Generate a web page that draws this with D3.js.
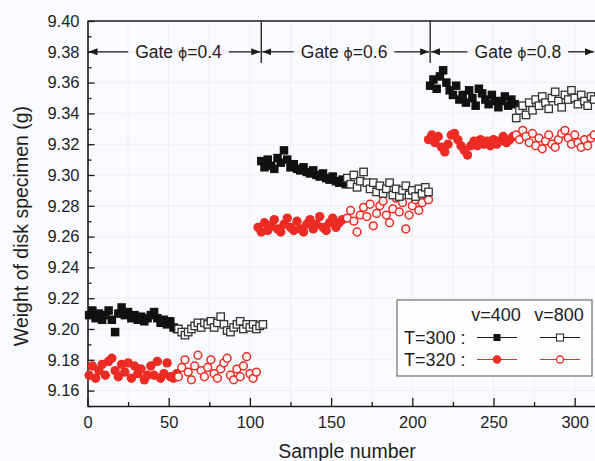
<!DOCTYPE html>
<html>
<head>
<meta charset="utf-8">
<script src="https://cdn.jsdelivr.net/npm/d3@7"></script>
<style>
  html, body { margin: 0; padding: 0; background: #fafbfe; }
  svg { display: block; font-family: "Liberation Sans", Arial, Helvetica, sans-serif; }
</style>
</head>
<body>
<div id="chart"></div>
<script>
const width = 595;
const height = 461;

// sample step between plotted points
const sampleStep = 2;

const xTicks = [0, 50, 100, 150, 200, 250, 300];
const yTicks = [9.16, 9.18, 9.20, 9.22, 9.24, 9.26, 9.28, 9.30, 9.32, 9.34, 9.36, 9.38, 9.40];

const gateLabels = ['0.4', '0.6', '0.8'];
const gateBounds = [0, 107, 211, 312.5];
const gateLabelAt = [56, 158, 265];
const gateLevel = 9.38;

const legendCols = ['v=400', 'v=800'];
const legendRows = ['T=300 :', 'T=320 :'];

// first sample number of each gate segment
const startT300v400 = [1, 107, 211];
const startT300v800 = [56, 160, 264];
const startT320v400 = [1, 105, 210];
const startT320v800 = [56, 160, 264];

const t300v400 = [
    [9.209, 9.212, 9.207, 9.210, 9.206, 9.209, 9.212, 9.206, 9.198, 9.210, 9.214, 9.209, 9.211, 9.207,
     9.209, 9.206, 9.208, 9.205, 9.207, 9.209, 9.211, 9.207, 9.204, 9.206, 9.203, 9.205, 9.201, 9.200],
    [9.309, 9.305, 9.310, 9.306, 9.304, 9.311, 9.308, 9.316, 9.310, 9.305, 9.307, 9.304, 9.303, 9.305,
     9.302, 9.301, 9.303, 9.300, 9.299, 9.301, 9.298, 9.297, 9.299, 9.296, 9.295, 9.297, 9.294],
    [9.358, 9.362, 9.356, 9.364, 9.368, 9.360, 9.355, 9.352, 9.358, 9.349, 9.352, 9.347, 9.355, 9.350,
     9.345, 9.356, 9.353, 9.349, 9.346, 9.352, 9.348, 9.344, 9.348, 9.351, 9.345, 9.349, 9.346]
];
const t300v800 = [
    [9.200, 9.198, 9.196, 9.198, 9.200, 9.202, 9.204, 9.201, 9.204, 9.203, 9.205, 9.201, 9.204, 9.208,
     9.203, 9.199, 9.198, 9.201, 9.203, 9.205, 9.200, 9.203, 9.201, 9.203, 9.200, 9.202, 9.203],
    [9.298, 9.294, 9.300, 9.292, 9.296, 9.302, 9.295, 9.291, 9.295, 9.289, 9.293, 9.288, 9.291, 9.295,
     9.287, 9.291, 9.286, 9.290, 9.293, 9.287, 9.290, 9.286, 9.291, 9.288, 9.292, 9.289],
    [9.337, 9.342, 9.345, 9.339, 9.347, 9.342, 9.349, 9.345, 9.351, 9.347, 9.343, 9.350, 9.354, 9.348,
     9.344, 9.352, 9.349, 9.355, 9.350, 9.346, 9.352, 9.348, 9.345, 9.351, 9.349]
];
const t320v400 = [
    [9.170, 9.176, 9.168, 9.173, 9.177, 9.170, 9.179, 9.181, 9.173, 9.169, 9.177, 9.172, 9.178, 9.168,
     9.176, 9.171, 9.174, 9.167, 9.170, 9.176, 9.170, 9.179, 9.168, 9.171, 9.178, 9.169, 9.168, 9.171],
    [9.266, 9.263, 9.269, 9.264, 9.267, 9.271, 9.265, 9.263, 9.268, 9.272, 9.266, 9.264, 9.270, 9.265,
     9.263, 9.268, 9.271, 9.265, 9.268, 9.273, 9.266, 9.264, 9.269, 9.272, 9.266, 9.269, 9.271],
    [9.323, 9.326, 9.321, 9.325, 9.318, 9.315, 9.320, 9.326, 9.327, 9.323, 9.319, 9.316, 9.313, 9.319,
     9.322, 9.319, 9.323, 9.320, 9.322, 9.319, 9.323, 9.320, 9.322, 9.325, 9.321, 9.323, 9.325]
];
const t320v800 = [
    [9.169, 9.175, 9.180, 9.172, 9.167, 9.176, 9.183, 9.173, 9.169, 9.175, 9.180, 9.171, 9.168, 9.174,
     9.178, 9.181, 9.170, 9.167, 9.174, 9.169, 9.176, 9.182, 9.171, 9.168, 9.172],
    [9.272, 9.277, 9.270, 9.263, 9.274, 9.279, 9.273, 9.281, 9.267, 9.275, 9.280, 9.283, 9.274, 9.269,
     9.278, 9.285, 9.276, 9.282, 9.265, 9.274, 9.280, 9.284, 9.277, 9.282, 9.287, 9.284],
    [9.326, 9.323, 9.329, 9.325, 9.321, 9.327, 9.319, 9.324, 9.317, 9.322, 9.326, 9.320, 9.318, 9.323,
     9.327, 9.329, 9.324, 9.320, 9.326, 9.321, 9.318, 9.323, 9.319, 9.324, 9.326]
];

const red = '#ec2b24';
const ink = '#1a1a1a';

const x = d3.scaleLinear().domain([0, 312.5]).range([87.5, 595]);
const y = d3.scaleLinear().domain([9.15, 9.40]).range([406, 21]);

function toPoints (starts, segments) {
    const points = [];
    segments.forEach((values, segIndex) => {
        values.forEach((v, i) => points.push({ s: starts[segIndex] + i * sampleStep, v: v }));
    });
    return points;
}

const svg = d3.select('#chart').append('svg')
    .attr('width', width)
    .attr('height', height);

// faint background grid
const grid = svg.append('g').attr('class', 'grid')
    .attr('stroke', '#f4ecee')
    .attr('stroke-width', 1);
grid.selectAll('.gx')
    .data(d3.range(25, 312.5, 25))
    .enter().append('line')
    .attr('x1', d => x(d)).attr('x2', d => x(d))
    .attr('y1', y.range()[1]).attr('y2', y.range()[0]);
grid.selectAll('.gy')
    .data(yTicks.slice(0, -1))
    .enter().append('line')
    .attr('x1', x.range()[0]).attr('x2', x.range()[1])
    .attr('y1', d => y(d)).attr('y2', d => y(d));

// axes (ticks point inward)
svg.append('g')
    .attr('transform', `translate(${x.range()[0]},0)`)
    .call(d3.axisLeft(y).tickValues(yTicks).tickFormat(d3.format('.2f'))
        .tickSizeInner(-7).tickSizeOuter(0).tickPadding(8));
svg.append('g')
    .attr('transform', `translate(${x.range()[0]},0)`)
    .call(d3.axisLeft(y).tickValues(d3.range(9.15, 9.395, 0.02)).tickFormat('')
        .tickSizeInner(-4).tickSizeOuter(0))
    .select('.domain').remove();

svg.append('g')
    .attr('transform', `translate(0,${y.range()[0]})`)
    .call(d3.axisBottom(x).tickValues(xTicks).tickSizeInner(-8).tickSizeOuter(0).tickPadding(10));
svg.append('g')
    .attr('transform', `translate(0,${y.range()[0]})`)
    .call(d3.axisBottom(x).tickValues(d3.range(25, 312.5, 50)).tickFormat('')
        .tickSizeInner(-4).tickSizeOuter(0))
    .select('.domain').remove();

svg.selectAll('.domain').attr('stroke', ink).attr('stroke-width', 1.6);
svg.selectAll('.tick line').attr('stroke', ink).attr('stroke-width', 1.3);
svg.selectAll('.tick text')
    .attr('fill', '#1e1e1e')
    .style('font-family', '"Liberation Sans", Arial, sans-serif')
    .style('font-size', '16.5px');

// top frame line
svg.append('line')
    .attr('x1', x.range()[0]).attr('x2', x.range()[1])
    .attr('y1', y.range()[1]).attr('y2', y.range()[1])
    .attr('stroke', ink).attr('stroke-width', 1.6);

// axis titles
svg.append('text')
    .attr('x', 347).attr('y', 458)
    .attr('text-anchor', 'middle')
    .attr('fill', '#1e1e1e')
    .style('font-size', '19.5px')
    .text('Sample number');
svg.append('text')
    .attr('transform', 'translate(28,226) rotate(-90)')
    .attr('text-anchor', 'middle')
    .attr('fill', '#1e1e1e')
    .style('font-size', '19.5px')
    .text('Weight of disk specimen (g)');

// gate annotation arrows
const defs = svg.append('defs');
defs.append('marker')
    .attr('id', 'arrow')
    .attr('markerUnits', 'userSpaceOnUse')
    .attr('markerWidth', 9).attr('markerHeight', 7)
    .attr('refX', 9).attr('refY', 3.5)
    .attr('orient', 'auto-start-reverse')
    .append('path')
    .attr('d', 'M0,0 L9,3.5 L0,7 Z')
    .attr('fill', ink);

const gateY = y(gateLevel);
gateBounds.slice(1, -1).forEach(b => {
    svg.append('line')
        .attr('x1', x(b)).attr('x2', x(b))
        .attr('y1', y.range()[1]).attr('y2', y.range()[1] + 42)
        .attr('stroke', ink).attr('stroke-width', 1.3);
});

gateLabels.forEach((label, i) => {
    const cx = x(gateLabelAt[i]);
    const t = svg.append('text')
        .attr('x', cx).attr('y', gateY)
        .attr('dy', '0.36em')
        .attr('text-anchor', 'middle')
        .attr('fill', '#1e1e1e')
        .style('font-size', '17.5px');
    t.append('tspan').text('Gate ');
    t.append('tspan').style('font-family', '"DejaVu Sans", sans-serif').style('font-size', '14px').text('ϕ');
    t.append('tspan').text('=' + label);
    const w = t.node().getComputedTextLength();
    svg.append('line')
        .attr('x1', cx - w / 2 - 7).attr('x2', x(gateBounds[i]) + 1)
        .attr('y1', gateY).attr('y2', gateY)
        .attr('stroke', ink).attr('stroke-width', 1.3)
        .attr('marker-end', 'url(#arrow)');
    svg.append('line')
        .attr('x1', cx + w / 2 + 7).attr('x2', x(gateBounds[i + 1]) - 1)
        .attr('y1', gateY).attr('y2', gateY)
        .attr('stroke', ink).attr('stroke-width', 1.3)
        .attr('marker-end', 'url(#arrow)');
});

// data markers
const plot = svg.append('g').attr('class', 'points');
const sq = 8.5;
const osq = 7.4;

plot.selectAll('.p-t320v400')
    .data(toPoints(startT320v400, t320v400))
    .enter().append('circle')
    .attr('cx', d => x(d.s)).attr('cy', d => y(d.v))
    .attr('r', 4.7)
    .attr('fill', red);

plot.selectAll('.p-t320v800')
    .data(toPoints(startT320v800, t320v800))
    .enter().append('circle')
    .attr('cx', d => x(d.s)).attr('cy', d => y(d.v))
    .attr('r', 3.9)
    .attr('fill', '#fff6f4')
    .attr('stroke', red)
    .attr('stroke-width', 1.5);

plot.selectAll('.p-t300v400')
    .data(toPoints(startT300v400, t300v400))
    .enter().append('rect')
    .attr('x', d => x(d.s) - sq / 2).attr('y', d => y(d.v) - sq / 2)
    .attr('width', sq).attr('height', sq)
    .attr('fill', '#111');

plot.selectAll('.p-t300v800')
    .data(toPoints(startT300v800, t300v800))
    .enter().append('rect')
    .attr('x', d => x(d.s) - osq / 2).attr('y', d => y(d.v) - osq / 2)
    .attr('width', osq).attr('height', osq)
    .attr('fill', '#fdfdfd')
    .attr('stroke', '#333')
    .attr('stroke-width', 1.3);

// legend
const legend = svg.append('g').attr('class', 'legend');
legend.append('rect')
    .attr('x', 397).attr('y', 300)
    .attr('width', 195).attr('height', 76)
    .attr('fill', '#fdfdfe')
    .attr('stroke', '#7a7a7a')
    .attr('stroke-width', 1.3);

const colX = [496, 559];
const rowY = [337.5, 359.5];
legend.selectAll('.lc')
    .data(legendCols)
    .enter().append('text')
    .attr('x', (d, i) => colX[i]).attr('y', 321)
    .attr('text-anchor', 'middle')
    .attr('fill', '#1e1e1e')
    .style('font-size', '18px')
    .text(d => d);
legend.selectAll('.lr')
    .data(legendRows)
    .enter().append('text')
    .attr('x', 404).attr('y', (d, i) => rowY[i] + 6)
    .attr('fill', '#1e1e1e')
    .style('font-size', '18px')
    .text(d => d);

const legendItems = [
    { row: 0, col: 0, color: ink, shape: 'square', filled: true },
    { row: 0, col: 1, color: ink, shape: 'square', filled: false },
    { row: 1, col: 0, color: red, shape: 'circle', filled: true },
    { row: 1, col: 1, color: red, shape: 'circle', filled: false }
];
legendItems.forEach(item => {
    const cx = colX[item.col] + 1;
    const cy = rowY[item.row];
    legend.append('line')
        .attr('x1', cx - 20).attr('x2', cx + 20)
        .attr('y1', cy).attr('y2', cy)
        .attr('stroke', item.color).attr('stroke-width', 1.1);
    if (item.shape === 'square') {
        legend.append('rect')
            .attr('x', cx - 3.5).attr('y', cy - 3.5)
            .attr('width', 7).attr('height', 7)
            .attr('fill', item.filled ? '#111' : '#fdfdfe')
            .attr('stroke', item.filled ? 'none' : '#333')
            .attr('stroke-width', 1.1);
    } else {
        legend.append('circle')
            .attr('cx', cx).attr('cy', cy)
            .attr('r', item.filled ? 4.2 : 3.5)
            .attr('fill', item.filled ? red : '#fdfdfe')
            .attr('stroke', item.filled ? 'none' : red)
            .attr('stroke-width', 1.3);
    }
});
</script>
</body>
</html>
